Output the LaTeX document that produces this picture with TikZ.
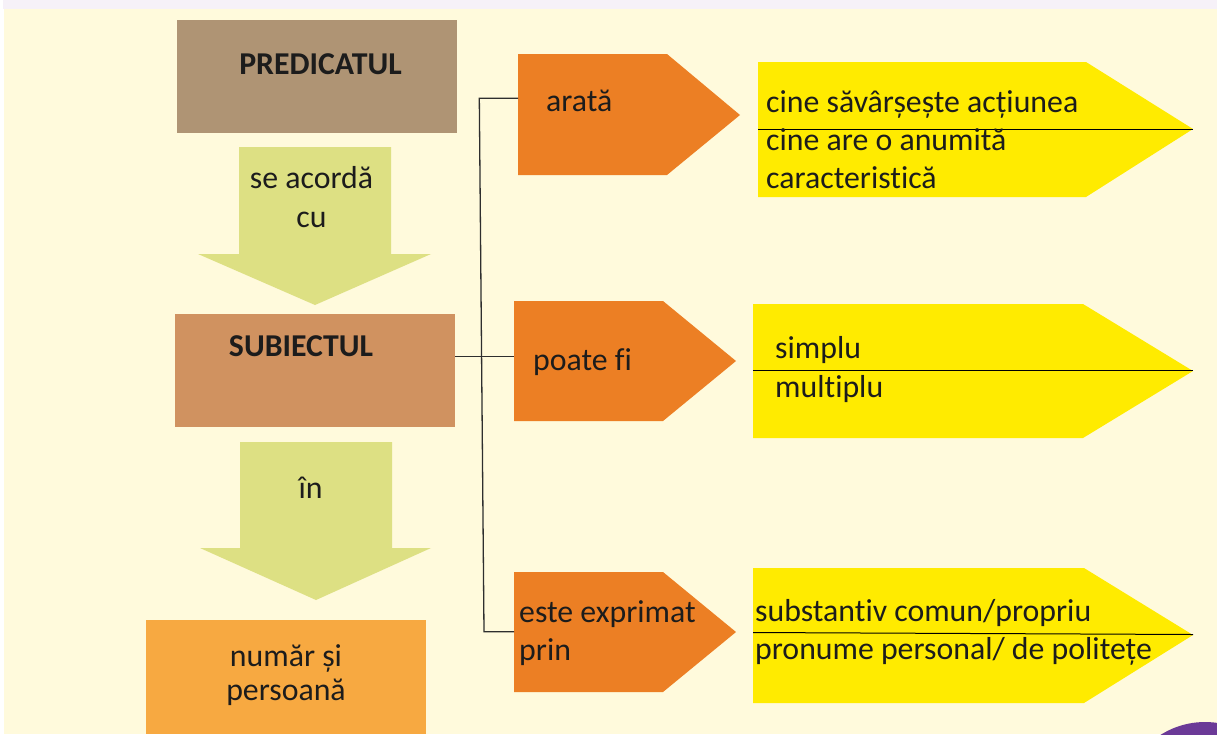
\documentclass[tikz,border=0pt]{standalone}
\usepackage{fontspec}
\setmainfont{Carlito}[Ligatures=NoCommon]
\definecolor{bgy}{HTML}{FFFADC}
\definecolor{stripc}{HTML}{F6F1F8}
\definecolor{predc}{HTML}{AF9474}
\definecolor{subc}{HTML}{D09260}
\definecolor{numc}{HTML}{F7A941}
\definecolor{arrc}{HTML}{DDE083}
\definecolor{orc}{HTML}{EC7F24}
\definecolor{yelc}{HTML}{FFEB00}
\definecolor{purc}{HTML}{6B3A97}
\definecolor{txtc}{HTML}{1C1C1C}
\definecolor{linec}{HTML}{2E2E2E}
\begin{document}
\begin{tikzpicture}[x=1pt,y=-1pt,
  txt/.style={inner sep=0pt, font=\fontsize{31.8}{38}\selectfont, text=txtc},
  btxt/.style={txt, font=\fontsize{31.8}{38}\selectfont\bfseries},
  conn/.style={draw=linec, line width=1.3pt},
  divl/.style={draw=black, line width=1pt}]
\useasboundingbox (0,0) rectangle (1217,734);
\fill[white] (0,0) rectangle (1217,734);
\fill[stripc] (3,0) rectangle (1217,9);
\fill[bgy] (4,9) rectangle (1217,734);
% purple circle
\begin{scope}
\clip (0,0) rectangle (1217,734);
\fill[purc] (1205,805) circle[radius=83];
\end{scope}

% left boxes
\fill[predc] (177,20) rectangle (457,133);
\node[btxt, anchor=base] (pred) at (320.5,74) {PREDICATUL};
\fill[arrc] (239,147) -- (391,147) -- (391,254) -- (431,254) -- (315,305) -- (198,254) -- (239,254) -- cycle;
\node[txt, anchor=base] (acord1) at (311.5,188) {se acordă};
\node[txt, anchor=base] (acord2) at (311.5,227) {cu};
\fill[subc] (175,314) rectangle (455,427);
\node[btxt, anchor=base] (subj) at (301,356) {SUBIECTUL};
\fill[arrc] (240,442) -- (392,442) -- (392,548) -- (431,548) -- (316,600) -- (200,548) -- (240,548) -- cycle;
\node[txt, anchor=base] (in) at (310.5,498) {în};
\fill[numc] (146,620) rectangle (426,734);
\node[txt, anchor=base] (num1) at (286,666) {număr și};
\node[txt, anchor=base] (num2) at (286,700) {persoană};

% orange pentagons
\fill[orc] (518,54) -- (667,54) -- (740,115) -- (667,175) -- (518,175) -- cycle;
\node[txt, anchor=base west] (arata) at (546,111) {arată};
\fill[orc] (514,301) -- (663,301) -- (736,361) -- (663,421) -- (514,421) -- cycle;
\node[txt, anchor=base west] (poate) at (533,370) {poate fi};
\fill[orc] (514,572) -- (663,572) -- (736,632) -- (663,692) -- (514,692) -- cycle;
\node[txt, anchor=base west] (este1) at (519,622) {este exprimat};
\node[txt, anchor=base west] (este2) at (519,660) {prin};

% yellow pentagons
\fill[yelc] (758,62) -- (1086,62) -- (1193,129) -- (1086,197) -- (758,197) -- cycle;
\draw[divl] (758,129.3) -- (1193,129.3);
\node[txt, anchor=base west] (y11) at (766,112) {cine săvârșește acțiunea};
\node[txt, anchor=base west] (y12) at (766,150) {cine are o anumită};
\node[txt, anchor=base west] (y13) at (766,188) {caracteristică};

\fill[yelc] (753,304) -- (1083,304) -- (1193,371) -- (1083,438) -- (753,438) -- cycle;
\draw[divl] (753,370.7) -- (1193,370.7);
\node[txt, anchor=base west] (y21) at (775,358) {simplu};
\node[txt, anchor=base west] (y22) at (775,397) {multiplu};

\fill[yelc] (753,568) -- (1084,568) -- (1193,635) -- (1084,703) -- (753,703) -- cycle;
\draw[divl] (753,632.5) -- (1193,634.5);
\node[txt, anchor=base west] (y31) at (755,621) {substantiv comun/propriu};
\node[txt, anchor=base west] (y32) at (755,659) {pronume personal/ de politețe};

% connectors
\coordinate (jtop) at (479.3,98.3);
\coordinate (jbot) at (484,631.7);
\coordinate (otop) at (518,98.3);
\coordinate (obot) at (514,631.7);
\coordinate (subR) at (455,356.7);
\coordinate (omid) at (514,356.7);
\draw[conn] (otop) -- (jtop) -- (jbot) -- (obot);
\draw[conn] (subR) -- (omid);
\end{tikzpicture}
\end{document}
